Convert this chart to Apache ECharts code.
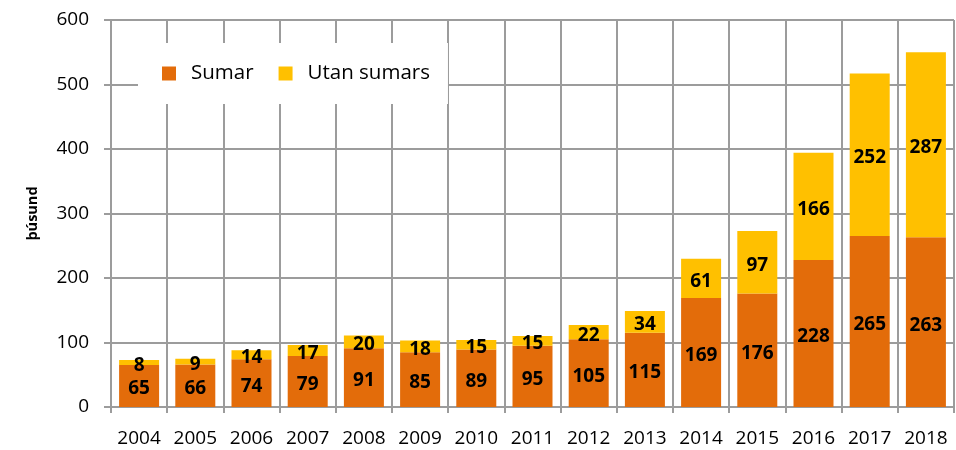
<!DOCTYPE html>
<html><head><meta charset="utf-8">
<script src="https://cdn.jsdelivr.net/npm/echarts@6/dist/echarts.min.js"></script>
<style>html,body{margin:0;padding:0;background:#fff}#c{width:956px;height:450px}</style>
</head><body><div id="c"></div>
<script>
const categories = ['2004','2005','2006','2007','2008','2009','2010','2011','2012','2013','2014','2015','2016','2017','2018'];
const sumar = [65,66,74,79,91,85,89,95,105,115,169,176,228,265,263];
const utanSumars = [8,9,14,17,20,18,15,15,22,34,61,97,166,252,287];
const yTicks = {min:0, max:600, interval:100};
const FONT = '"Open Sans", sans-serif';
const chart = echarts.init(document.getElementById('c'), null, {renderer:'canvas'});
const labelStyle = {show:true, position:'inside', offset:[0,3], color:'#000', fontFamily:FONT, fontWeight:'bold', fontSize:19};
chart.setOption({
  animation:false,
  grid:{left:111, right:2, top:20, bottom:43},
  legend:{
    left:138, top:43, backgroundColor:'#fff', padding:[20,18,20,24],
    itemWidth:14, itemHeight:14, itemGap:25, icon:'rect',
    textStyle:{fontFamily:FONT, fontSize:20.5, color:'#000', padding:[0,0,0,10]},
    data:['Sumar','Utan sumars']
  },
  xAxis:{
    type:'category', data:categories,
    axisLine:{lineStyle:{color:'#9c9c9c', width:2}},
    axisTick:{show:true, length:6, lineStyle:{color:'#9c9c9c', width:2}},
    axisLabel:{color:'#000', fontFamily:FONT, fontSize:19, margin:22, interval:0},
    splitLine:{show:true, interval:0, lineStyle:{color:'#9c9c9c', width:2}}
  },
  yAxis:{
    type:'value', min:yTicks.min, max:yTicks.max, interval:yTicks.interval,
    name:'þúsund', nameLocation:'middle', nameGap:71,
    nameTextStyle:{fontFamily:FONT, fontWeight:'bold', fontSize:14.5, color:'#000'},
    axisLine:{show:true, lineStyle:{color:'#9c9c9c', width:2}},
    axisTick:{show:true, length:7, lineStyle:{color:'#9c9c9c', width:2}},
    axisLabel:{color:'#000', fontFamily:FONT, fontSize:19, margin:22},
    splitLine:{show:true, lineStyle:{color:'#9c9c9c', width:2}}
  },
  series:[
    {name:'Sumar', type:'bar', stack:'t', data:sumar, barWidth:40,
     itemStyle:{color:'#E36C0A'}, label:labelStyle},
    {name:'Utan sumars', type:'bar', stack:'t', data:utanSumars, barWidth:40,
     itemStyle:{color:'#FFC000'}, label:labelStyle}
  ]
});
</script></body></html>
